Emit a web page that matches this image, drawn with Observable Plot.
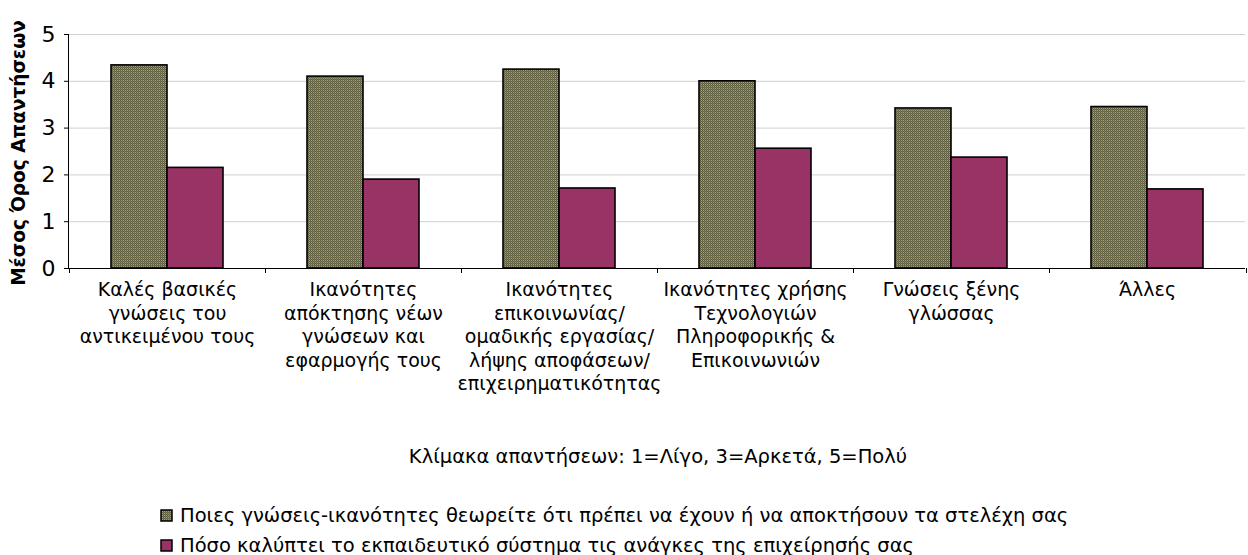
<!DOCTYPE html>
<html>
<head>
<meta charset="utf-8">
<script src="https://cdn.jsdelivr.net/npm/d3@7"></script>
<script src="https://cdn.jsdelivr.net/npm/@observablehq/plot@0.6"></script>
<style>
  body { margin: 0; background: #fff; font-family: "DejaVu Sans", sans-serif; color: #000; }
  #chart { position: relative; width: 1248px; height: 420px; }
  .caption { width: 1248px; box-sizing: border-box; padding-left: 68px; text-align: center; font-size: 19.5px; line-height: 24px; margin-top: 25px; }
  .legend { margin-top: 31px; padding-left: 160px; font-size: 19.5px; }
  .legend .row { display: flex; align-items: center; height: 30px; }
  .legend svg { margin-right: 7px; }
</style>
</head>
<body>
<div id="chart"></div>
<div class="caption">Κλίμακα απαντήσεων: 1=Λίγο, 3=Αρκετά, 5=Πολύ</div>
<div class="legend" id="legend"></div>
<script>
const categories = [
  "Καλές βασικές\nγνώσεις του\nαντικειμένου τους",
  "Ικανότητες\nαπόκτησης νέων\nγνώσεων και\nεφαρμογής τους",
  "Ικανότητες\nεπικοινωνίας/\nομαδικής εργασίας/\nλήψης αποφάσεων/\nεπιχειρηματικότητας",
  "Ικανότητες χρήσης\nΤεχνολογιών\nΠληροφορικής &\nΕπικοινωνιών",
  "Γνώσεις ξένης\nγλώσσας",
  "Άλλες"
];
const seriesNames = [
  "Ποιες γνώσεις-ικανότητες θεωρείτε ότι πρέπει να έχουν ή να αποκτήσουν τα στελέχη σας",
  "Πόσο καλύπτει το εκπαιδευτικό σύστημα τις ανάγκες της επιχείρησής σας"
];
const needValues = [4.34, 4.10, 4.25, 4.00, 3.42, 3.45];
const coverValues = [2.15, 1.90, 1.71, 2.56, 2.37, 1.69];
const yTicks = [0, 1, 2, 3, 4, 5];
const yTitle = "Μέσος Όρος Απαντήσεων";
const seriesFills = ["url(#chk)", "#993366"];

const table = [];
categories.forEach((c, i) => {
  table.push({cat: c, series: seriesNames[0], value: needValues[i]});
  table.push({cat: c, series: seriesNames[1], value: coverValues[i]});
});

const plot = Plot.plot({
  width: 1248,
  height: 420,
  marginTop: 34,
  marginBottom: 152,
  marginLeft: 68,
  marginRight: 2,
  style: {fontFamily: "DejaVu Sans", fontSize: "19px", color: "#000", background: "#fff", overflow: "visible"},
  fx: {domain: categories, padding: 0, label: null},
  x: {domain: seriesNames, paddingInner: 0, paddingOuter: 0.75, axis: null},
  y: {domain: [0, 5], label: null},
  color: {domain: seriesNames, range: seriesFills},
  marks: [
    Plot.ruleY(yTicks.filter(v => v > 0), {stroke: "#d0d0d0", strokeWidth: 1}),
    Plot.axisY({ticks: yTicks, tickFormat: d3.format("d"), tickSize: 5, tickPadding: 9, fontSize: 22, label: null, stroke: "#000"}),
    Plot.axisFx({anchor: "bottom", tickSize: 0, tickPadding: 11, lineHeight: 1.24, fontSize: 19, label: null}),
    Plot.barY(table, {fx: "cat", x: "series", y: "value", fill: "series", stroke: "#000", strokeWidth: 1.6}),
    Plot.ruleY([0], {stroke: "#000", strokeWidth: 1})
  ]
});

const svg = d3.select(plot.tagName.toLowerCase() === "svg" ? plot : plot.querySelector("svg"));
const defs = svg.insert("defs", ":first-child");
function addPattern(sel, id) {
  const pat = sel.append("pattern").attr("id", id).attr("width", 2).attr("height", 2).attr("patternUnits", "userSpaceOnUse");
  pat.append("rect").attr("width", 2).attr("height", 2).attr("fill", "#5e5e3e");
  pat.append("rect").attr("width", 1).attr("height", 1).attr("fill", "#a4a482");
  pat.append("rect").attr("x", 1).attr("y", 1).attr("width", 1).attr("height", 1).attr("fill", "#7a7a58");
}
addPattern(defs, "chk");

const fx = plot.scale("fx");
const y = plot.scale("y");
const y0 = y.apply(0), y5 = y.apply(5);
const left = fx.range[0], right = fx.range[1];
const g = svg.append("g").attr("stroke", "#000").attr("stroke-width", 1);
g.append("line").attr("x1", left + 0.5).attr("x2", left + 0.5).attr("y1", y5).attr("y2", y0);
const bounds = categories.map(c => fx.apply(c)).concat([right]);
bounds.forEach(b => {
  g.append("line").attr("x1", Math.round(b) + 0.5).attr("x2", Math.round(b) + 0.5).attr("y1", y0).attr("y2", y0 + 5);
});
svg.append("text")
  .attr("transform", `translate(25,${(y0 + y5) / 2 + 2}) rotate(-90)`)
  .attr("text-anchor", "middle")
  .attr("font-weight", "bold")
  .attr("font-size", 18.5)
  .attr("font-family", "DejaVu Sans")
  .text(yTitle);

document.getElementById("chart").appendChild(plot);

const legend = d3.select("#legend");
seriesNames.forEach((name, i) => {
  const row = legend.append("div").attr("class", "row");
  const s = row.append("svg").attr("width", 13).attr("height", 13);
  if (i === 0) addPattern(s.append("defs"), "chk2");
  s.append("rect").attr("x", 1).attr("y", 1).attr("width", 11).attr("height", 11)
    .attr("fill", i === 0 ? "url(#chk2)" : seriesFills[1]).attr("stroke", "#000").attr("stroke-width", 1.5);
  row.append("span").text(name);
});
</script>
</body>
</html>
